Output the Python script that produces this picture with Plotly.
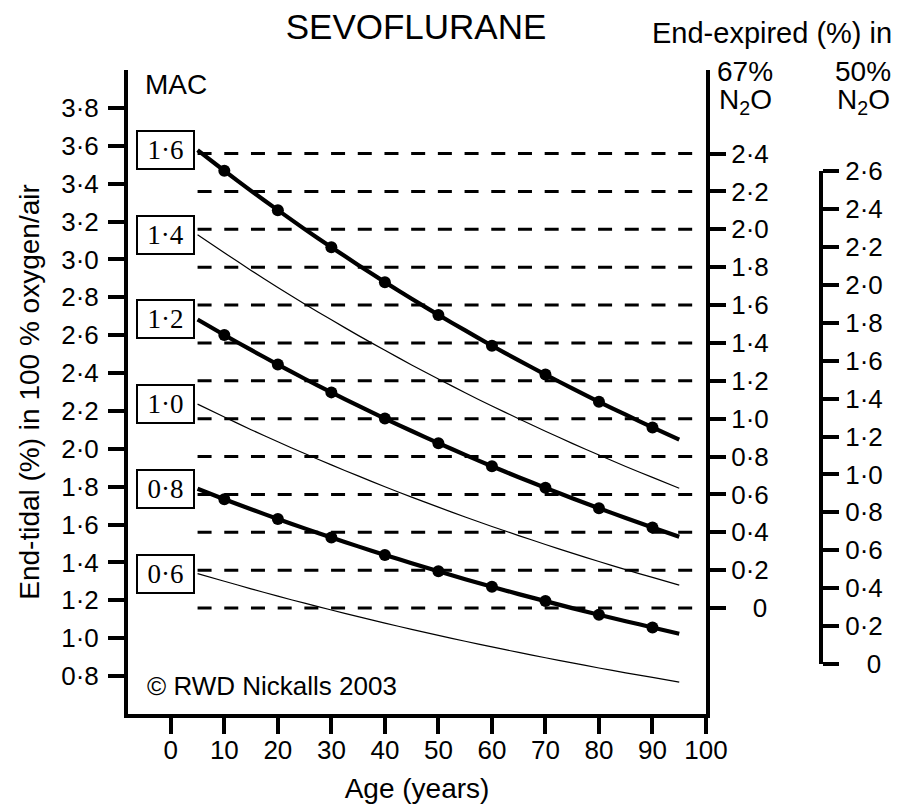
import plotly.graph_objects as go

# ---------------- data ----------------
ages = [5, 10, 15, 20, 25, 30, 35, 40, 45, 50, 55, 60, 65, 70, 75, 80, 85, 90, 95]

mac_0_6 = [1.341, 1.301, 1.261, 1.222, 1.185, 1.149, 1.114, 1.080, 1.047, 1.015,
           0.984, 0.954, 0.925, 0.897, 0.870, 0.843, 0.817, 0.793, 0.768]
mac_0_8 = [1.789, 1.734, 1.681, 1.630, 1.580, 1.532, 1.485, 1.440, 1.396, 1.354,
           1.312, 1.272, 1.233, 1.196, 1.159, 1.124, 1.090, 1.057, 1.024]
mac_1_0 = [2.236, 2.168, 2.101, 2.037, 1.975, 1.915, 1.857, 1.800, 1.745, 1.692,
           1.640, 1.590, 1.542, 1.495, 1.449, 1.405, 1.362, 1.321, 1.280]
mac_1_2 = [2.683, 2.601, 2.522, 2.445, 2.370, 2.298, 2.228, 2.160, 2.094, 2.030,
           1.968, 1.908, 1.850, 1.794, 1.739, 1.686, 1.635, 1.585, 1.536]
mac_1_4 = [3.130, 3.035, 2.942, 2.852, 2.765, 2.681, 2.599, 2.520, 2.443, 2.369,
           2.296, 2.226, 2.159, 2.093, 2.029, 1.967, 1.907, 1.849, 1.792]
mac_1_6 = [3.577, 3.468, 3.362, 3.260, 3.160, 3.064, 2.971, 2.880, 2.792, 2.707,
           2.625, 2.544, 2.467, 2.392, 2.319, 2.248, 2.180, 2.113, 2.049]

mac_labels = ["0·6", "0·8", "1·0", "1·2", "1·4", "1·6"]
mac_series = [mac_0_6, mac_0_8, mac_1_0, mac_1_2, mac_1_4, mac_1_6]
thick_labels = ["0·8", "1·2", "1·6"]
marker_ages = [10, 20, 30, 40, 50, 60, 70, 80, 90]

age_ticks = [0, 10, 20, 30, 40, 50, 60, 70, 80, 90, 100]
left_ticks = [0.8, 1.0, 1.2, 1.4, 1.6, 1.8, 2.0, 2.2, 2.4, 2.6, 2.8, 3.0, 3.2, 3.4, 3.6, 3.8]
n2o67_ticks = [0, 0.2, 0.4, 0.6, 0.8, 1.0, 1.2, 1.4, 1.6, 1.8, 2.0, 2.2, 2.4]
n2o50_ticks = [0, 0.2, 0.4, 0.6, 0.8, 1.0, 1.2, 1.4, 1.6, 1.8, 2.0, 2.2, 2.4, 2.6]

# sevoflurane % equivalent to zero on the N2O scales
n2o67_zero = 1.159
n2o50_zero = 0.865

dash_age_span = [5, 98]

# ---------------- geometry ----------------
W, H = 902, 812
ML, MR, MT, MB = 128, 0, 70, 98
PW, PH = W - ML - MR, H - MT - MB
X_RANGE = [-8, 100]
Y_RANGE = [0.6, 4.0]
main_right_px = 706
x_dom_right = (main_right_px - ML) / PW
ax50_px = 819


def px(xp):
    return (xp - ML) / PW


def py(yp):
    return (H - MB - yp) / PH


def fmt(v):
    return f"{v:.1f}".replace(".", "·")


def fmt_r(v):
    # right-aligned look: pad the bare zero by a digit + dot width
    return fmt(v) if v != 0 else "\u2007\u20080"


FONT = "Liberation Sans, Arial, sans-serif"
SERIF = "Liberation Serif, Times New Roman, serif"

fig = go.Figure()

# dashed reference lines at the 67% N2O ticks
for v in n2o67_ticks:
    fig.add_trace(go.Scatter(
        x=dash_age_span, y=[v, v], mode="lines", yaxis="y2",
        line=dict(color="black", width=3, dash="14px,12.7px"),
        hoverinfo="skip", showlegend=False))

# MAC curves
for lab, ser in zip(mac_labels, mac_series):
    thick = lab in thick_labels
    fig.add_trace(go.Scatter(
        x=ages, y=ser, mode="lines",
        line=dict(color="black", width=4.2 if thick else 1.2, shape="spline", smoothing=0.6),
        showlegend=False, name=lab))
    if thick:
        my = [ser[ages.index(a)] for a in marker_ages]
        fig.add_trace(go.Scatter(
            x=marker_ages, y=my, mode="markers",
            marker=dict(color="black", size=12),
            showlegend=False, name=lab))

# empty trace so that the 50% N2O scale is drawn
fig.add_trace(go.Scatter(x=[None], y=[None], xaxis="x2", yaxis="y3", mode="markers",
                         showlegend=False, hoverinfo="skip"))

# MAC boxes
annotations = []
for lab, ser in zip(mac_labels, mac_series):
    annotations.append(dict(
        x=-1, y=ser[0], xref="x", yref="y", text=lab,
        showarrow=False, font=dict(family=SERIF, size=27, color="black"),
        bordercolor="black", borderwidth=2, borderpad=0, bgcolor="white",
        width=55, height=36, xanchor="center", yanchor="middle"))

annotations += [
    dict(x=px(143), y=py(85), xref="paper", yref="paper", text="MAC", showarrow=False,
         xanchor="left", yanchor="middle", font=dict(family=FONT, size=28, color="black")),
    dict(x=px(145), y=py(686), xref="paper", yref="paper", text="© RWD Nickalls 2003",
         showarrow=False, xanchor="left", yanchor="middle",
         font=dict(family=FONT, size=26, color="black")),
    dict(x=px(772), y=py(33), xref="paper", yref="paper", text="End-expired (%) in",
         showarrow=False, xanchor="center", yanchor="middle",
         font=dict(family=FONT, size=29, color="black")),
    dict(x=px(745), y=py(72), xref="paper", yref="paper", text="67%",
         showarrow=False, xanchor="center", yanchor="middle",
         font=dict(family=FONT, size=28, color="black")),
    dict(x=px(745), y=py(102), xref="paper", yref="paper", text="N<sub>2</sub>O",
         showarrow=False, xanchor="center", yanchor="middle",
         font=dict(family=FONT, size=28, color="black")),
    dict(x=px(863), y=py(72), xref="paper", yref="paper", text="50%",
         showarrow=False, xanchor="center", yanchor="middle",
         font=dict(family=FONT, size=28, color="black")),
    dict(x=px(863), y=py(102), xref="paper", yref="paper", text="N<sub>2</sub>O",
         showarrow=False, xanchor="center", yanchor="middle",
         font=dict(family=FONT, size=28, color="black")),
]

axis_common = dict(showline=True, linewidth=4, linecolor="black", ticks="outside",
                   ticklen=16, tickwidth=4, tickcolor="black", showgrid=False,
                   zeroline=False, automargin=False,
                   tickfont=dict(family=FONT, size=26, color="black"))

y50_dom = [(n2o50_zero + n2o50_ticks[0] - Y_RANGE[0]) / (Y_RANGE[1] - Y_RANGE[0]),
           (n2o50_zero + n2o50_ticks[-1] - Y_RANGE[0]) / (Y_RANGE[1] - Y_RANGE[0])]

fig.update_layout(
    width=W, height=H,
    margin=dict(l=ML, r=MR, t=MT, b=MB, pad=0, autoexpand=False),
    paper_bgcolor="white", plot_bgcolor="white",
    font=dict(family=FONT, color="black"),
    title=dict(text="SEVOFLURANE", x=px(416), xref="paper", xanchor="center",
               y=1 - 27 / H, yref="container", yanchor="middle",
               font=dict(family=FONT, size=35, color="black")),
    xaxis=dict(domain=[0, x_dom_right], range=X_RANGE, tickvals=age_ticks,
               ticktext=[str(a) for a in age_ticks], anchor="y",
               title=dict(text="Age (years)", font=dict(family=FONT, size=28), standoff=15),
               ticklabelstandoff=-6, **axis_common),
    yaxis=dict(range=Y_RANGE, tickvals=left_ticks, ticktext=[fmt(v) for v in left_ticks],
               anchor="x", side="left",
               title=dict(text="End-tidal (%) in 100 % oxygen/air",
                          font=dict(family=FONT, size=28), standoff=14),
               ticklabelstandoff=4, **axis_common),
    yaxis2=dict(range=[Y_RANGE[0] - n2o67_zero, Y_RANGE[1] - n2o67_zero],
                overlaying="y", anchor="x", side="right",
                tickvals=n2o67_ticks, ticktext=[fmt_r(v) for v in n2o67_ticks],
                ticklabelstandoff=0, **axis_common),
    xaxis2=dict(domain=[px(ax50_px) - 0.05, px(ax50_px)], anchor="y3", visible=False,
                range=[0, 1], automargin=False),
    yaxis3=dict(domain=y50_dom, range=[n2o50_ticks[0], n2o50_ticks[-1]], anchor="x2",
                side="right", tickvals=n2o50_ticks, ticktext=[fmt_r(v) for v in n2o50_ticks],
                ticklabelstandoff=1, **axis_common),
    annotations=annotations,
    showlegend=False,
)

fig.write_html("out.html", config={"displayModeBar": False},
               post_script="document.body.style.margin='0';")
